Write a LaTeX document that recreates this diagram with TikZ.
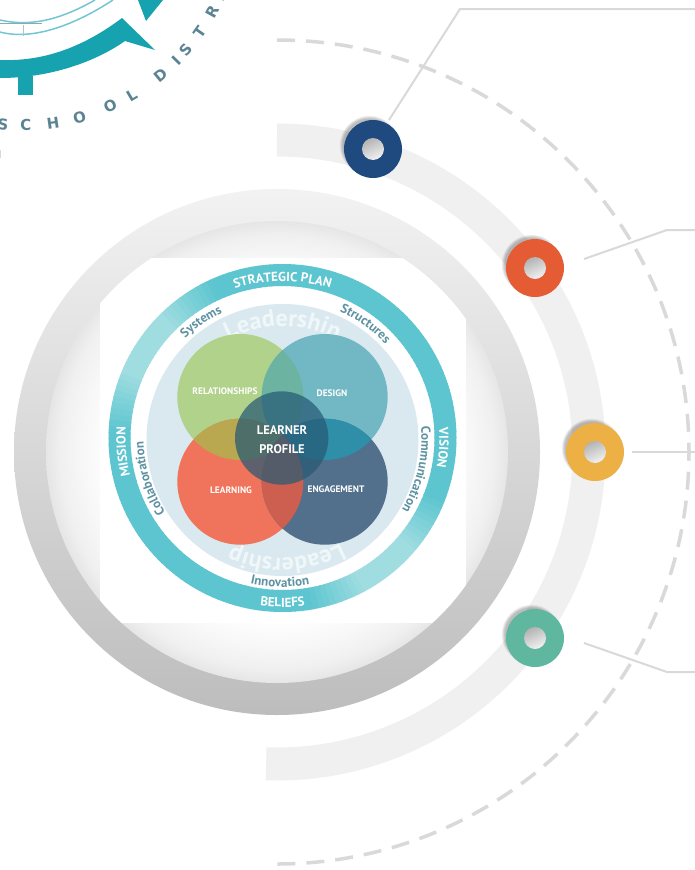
\documentclass[tikz,border=0pt]{standalone}
\usepackage{fontspec}
\setsansfont{PT Sans}
\newfontfamily\logofamily{DejaVu Sans}
\usepackage{xcolor}
\usetikzlibrary{decorations.text}

\definecolor{bandGray}{HTML}{F0F0F0}
\definecolor{lineGray}{HTML}{D9D9D9}
\definecolor{ringBase}{HTML}{5CC5CF}
\definecolor{ringLight}{HTML}{A0DDE1}
\definecolor{discBlue}{HTML}{DAE9EF}
\definecolor{labelBlue}{HTML}{5E93A3}
\definecolor{leadWhite}{HTML}{F0F7F9}
\definecolor{logoTeal}{HTML}{17A2B0}
\definecolor{logoText}{HTML}{5B8493}
\definecolor{colRel}{HTML}{B0D28A}
\definecolor{colDes}{HTML}{72B8C4}
\definecolor{colLrn}{HTML}{F0745C}
\definecolor{colEng}{HTML}{526F8C}
\definecolor{colRelDes}{HTML}{6DB3A2}
\definecolor{colRelLrn}{HTML}{B9A850}
\definecolor{colDesEng}{HTML}{2F8EA8}
\definecolor{colLrnEng}{HTML}{CC5F50}
\definecolor{colCore}{HTML}{265A74}
\definecolor{dotNavy}{HTML}{1F4A7F}
\definecolor{dotOrange}{HTML}{E55C34}
\definecolor{dotYellow}{HTML}{ECB044}
\definecolor{dotGreen}{HTML}{5FB7A0}

\pgfdeclareradialshading{innerglow}{\pgfpoint{0bp}{0bp}}{color(0bp)=(white); color(18bp)=(white); color(21bp)=(white!97!black); color(23.5bp)=(white!94!black); color(25bp)=(white!90!black); color(50bp)=(white!90!black)}

\newcommand{\ringfont}{\sffamily\bfseries\fontsize{13}{14}\selectfont}
\newcommand{\subfont}{\sffamily\bfseries\fontsize{13}{14}\selectfont}
\newcommand{\leadfont}{\sffamily\bfseries\fontsize{24}{25}\selectfont}

\tikzset{
	ringtext/.style={decorate, decoration={text along path, text align=center, text color=white, text={|\ringfont|#1}}},
	subtext/.style={decorate, decoration={text along path, text align=center, text color=labelBlue, text={|\subfont|#1}}},
	leadtext/.style={decorate, decoration={text along path, text align=center, text color=leadWhite, text={|\leadfont|#1}}},
	callout/.style={draw=lineGray, line width=2pt},
	vennlabel/.style={text=white, font=\sffamily\bfseries\fontsize{9.4}{10}\selectfont},
	corelabel/.style={text=white, font=\sffamily\bfseries\fontsize{12.5}{14}\selectfont},
	logoletter/.style={text=logoText, font=\logofamily\bfseries\fontsize{15}{15}\selectfont, inner sep=0pt},
	dotnode/.style={circle, fill=#1, minimum size=58pt, inner sep=0pt},
	holenode/.style={circle, minimum size=22pt, inner sep=0pt, top color=black!30, middle color=black!8, bottom color=black!5, shading angle=25}
}

\begin{document}
\begin{tikzpicture}[x=1pt, y=1pt]
	\def\cx{277}
	\def\cy{-452}
	\def\ix{282.5}
	\def\iy{-438}

	\useasboundingbox (0,-870) rectangle (695,0);
	\fill[white] (0,-870) rectangle (695,0);

	% logo corner
	\begin{scope}
		\fill[logoTeal] (0,-60) .. controls (50,-62) and (90,-42) .. (122,-18) -- (155,-50) -- (125,-41) .. controls (95,-62) and (50,-78) .. (0,-78) -- cycle;
		\fill[logoTeal] (18,-76) rectangle (33,-95);
		\fill[logoTeal] (138,0) -- (163,0) -- (146,-21) -- cycle;
		\draw[logoTeal!60, line width=1.5pt] (0,-20) .. controls (30,-27) and (60,-20) .. (95,0);
		\draw[logoTeal!60, line width=1.5pt] (0,-32) .. controls (30,-40) and (70,-28) .. (113,0);
		\draw[logoText!70, line width=1pt] (0,-23) -- (42,-23);
		\draw[logoText!50, line width=1pt] (23,-25) -- (23,-36);
		\fill[black!15] (0,-150) rectangle (1,-158);
		\foreach \ch/\ang [count=\i] in {S/-95,C/-89,H/-81.8,O/-74.6,O/-66,L/-59.6,D/-50.4,I/-44.6,S/-40.9,T/-35,R/-28.6,I/-24.5}
			\node[logoletter, rotate=\ang+90] (logo\i) at ([shift={(\ang:217)}]22,92) {\ch};
	\end{scope}

	% outer bands
	\begin{scope}
		\draw[bandGray, line width=33pt] (\cx,-140) arc[start angle=90, end angle=-92, radius=312];
		\draw[lineGray, line width=3.5pt, dash pattern=on 18pt off 11pt] (\cx,-40) arc[start angle=90, end angle=-91, radius=412];
	\end{scope}

	% big disc
	\begin{scope}
		\shade[top color=black!5, bottom color=black!26] (\cx,\cy) circle (263);
		\shade[shading=innerglow] (\cx,\cy) circle (231);
		\begin{scope}
			\clip (\cx,\cy) circle (231);
			\fill[white] (100,-258) rectangle (466,-623);
		\end{scope}
	\end{scope}

	% ring and text
	\begin{scope}
		\foreach \a in {-180,-178,...,178} {
			\pgfmathsetmacro{\f}{100*min(1,1.5*(max(0,1-abs(\a-145)/32)+max(0,1-abs(\a+52)/30)))}
			\draw[ringLight!\f!ringBase, line width=22pt] ([shift={(\a:163)}]\ix,\iy) arc[start angle=\a, end angle=\a+2.4, radius=163];
		}
		\fill[discBlue] (\ix,\iy) ++(0,-2) circle (136);

		\path[ringtext={STRATEGIC PLAN}] ([shift={(130:157)}]\ix,\iy) arc[start angle=130, end angle=50, radius=157];
		\path[ringtext={MISSION}] ([shift={(225:157)}]\ix,\iy) arc[start angle=225, end angle=145, radius=157];
		\path[ringtext={VISION}] ([shift={(36:157)}]\ix,\iy) arc[start angle=36, end angle=-43, radius=157];
		\path[ringtext={BELIEFS}] ([shift={(-130:169)}]\ix,\iy) arc[start angle=-130, end angle=-50, radius=169];

		\path[subtext={Systems}] ([shift={(165:139)}]\ix,\iy) arc[start angle=165, end angle=85, radius=139];
		\path[subtext={Structures}] ([shift={(94:139)}]\ix,\iy) arc[start angle=94, end angle=14, radius=139];
		\path[subtext={Communication}] ([shift={(37:139)}]\ix,\iy) arc[start angle=37, end angle=-63, radius=139];
		\path[subtext={Collaboration}] ([shift={(247:139)}]\ix,\iy) arc[start angle=247, end angle=147, radius=139];
		\path[subtext={Innovation}] ([shift={(-131:149)}]\ix,\iy) arc[start angle=-131, end angle=-51, radius=149];

		\path[leadtext={Leadership}] ([shift={(135:112)}]\ix,\iy) arc[start angle=135, end angle=45, radius=112];
		\path[leadtext={Leadership}] ([shift={(-43:120)}]\ix,\iy) arc[start angle=-43, end angle=-133, radius=120];
	\end{scope}

	% venn
	\begin{scope}
		\def\vr{63}
		\coordinate (cRel) at (240.3,-397);
		\coordinate (cDes) at (324.7,-397);
		\coordinate (cLrn) at (240.3,-481.7);
		\coordinate (cEng) at (324.7,-481.7);
		\coordinate (cCore) at (281.7,-438);

		\fill[colRel] (cRel) circle (\vr);
		\fill[colDes] (cDes) circle (\vr);
		\fill[colLrn] (cLrn) circle (\vr);
		\fill[colEng] (cEng) circle (\vr);
		\begin{scope}
			\clip (cRel) circle (\vr);
			\fill[colRelDes] (cDes) circle (\vr);
			\fill[colRelLrn] (cLrn) circle (\vr);
		\end{scope}
		\begin{scope}
			\clip (cEng) circle (\vr);
			\fill[colDesEng] (cDes) circle (\vr);
			\fill[colLrnEng] (cLrn) circle (\vr);
		\end{scope}
		\fill[colCore, opacity=.72] (cCore) circle (46.7);

		\node[vennlabel] (relLabel) at (225,-391) {RELATIONSHIPS};
		\node[vennlabel] (desLabel) at (332,-393) {DESIGN};
		\node[vennlabel] (lrnLabel) at (231,-490) {LEARNING};
		\node[vennlabel] (engLabel) at (336,-489) {ENGAGEMENT};
		\node[corelabel] (coreTop) at (282,-430) {LEARNER};
		\node[corelabel] (coreBot) at (282,-449.5) {PROFILE};
	\end{scope}

	% callouts and dots
	\begin{scope}
		\foreach \nm/\px/\py in {Plan/373/-149, Mission/535/-268, Vision/595/-452, Values/535/-638}
			\foreach \k in {1,2,3,4}
				\fill[black, opacity=.07] (\px-3.5,\py+3.5) circle (26+\k*.9);

		\node[dotnode=dotNavy] (dotPlan) at (373,-149) {};
		\node[dotnode=dotOrange] (dotMission) at (535,-268) {};
		\node[dotnode=dotYellow] (dotVision) at (595,-452) {};
		\node[dotnode=dotGreen] (dotValues) at (535,-638) {};
		\node[holenode] (holePlan) at (dotPlan) {};
		\node[holenode] (holeMission) at (dotMission) {};
		\node[holenode] (holeVision) at (dotVision) {};
		\node[holenode] (holeValues) at (dotValues) {};

		\coordinate (planStart) at (389,-120);
		\coordinate (planBend) at (460,-9);
		\coordinate (planEnd) at (695,-9);
		\coordinate (missionStart) at (584,-259);
		\coordinate (missionBend) at (667,-230);
		\coordinate (missionEnd) at (695,-230);
		\coordinate (visionStart) at (632,-452);
		\coordinate (visionEnd) at (695,-452);
		\coordinate (valuesStart) at (584,-643);
		\coordinate (valuesBend) at (667,-672);
		\coordinate (valuesEnd) at (695,-672);

		\draw[callout] (planStart) -- (planBend) -- (planEnd);
		\draw[callout] (missionStart) -- (missionBend) -- (missionEnd);
		\draw[callout] (visionStart) -- (visionEnd);
		\draw[callout] (valuesStart) -- (valuesBend) -- (valuesEnd);
	\end{scope}
\end{tikzpicture}
\end{document}
